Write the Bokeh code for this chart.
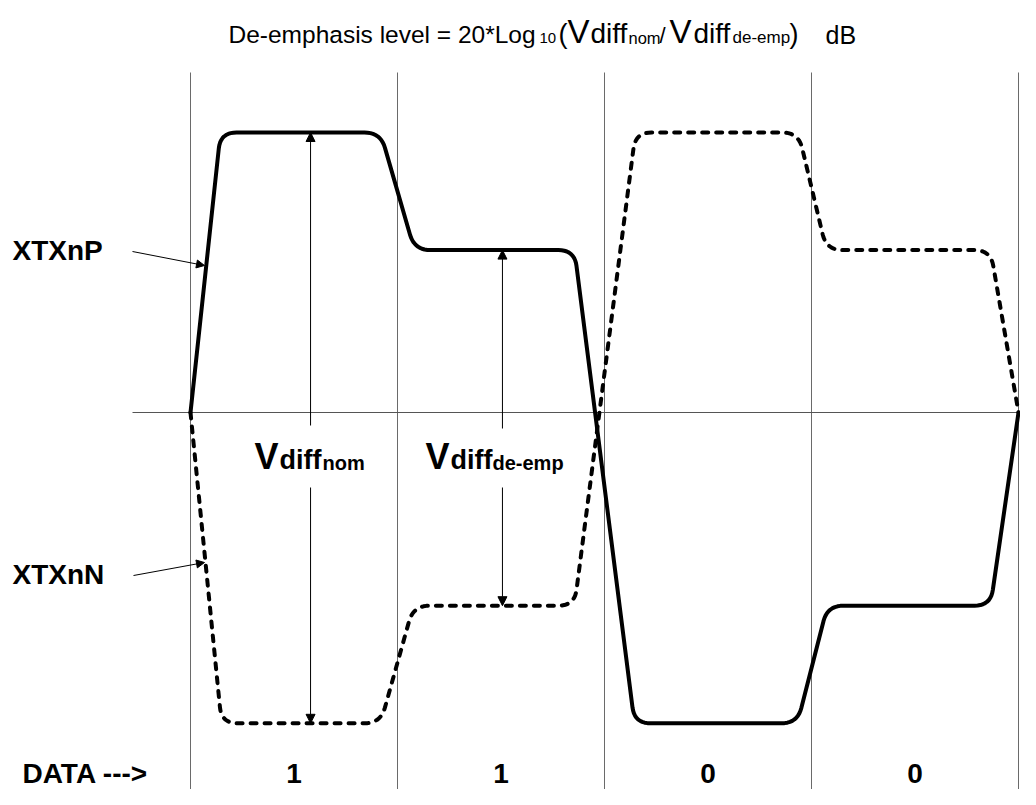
import numpy as np
from bokeh.plotting import figure
from bokeh.models import Range1d, Arrow, NormalHead
from bokeh.core.properties import value
from bokeh.embed import file_html
from bokeh.resources import INLINE

# ---------------- data (time in UI, voltage in normalised units) ----------------
DATA_BITS = ["1", "1", "0", "0"]
UI_EDGES = [0, 1, 2, 3, 4]

P_T = [0.0, 0.145, 0.918, 1.082, 1.855, 2.145, 2.932, 3.077, 3.865, 4.0]
P_V = [0.0, 1.0, 1.0, 0.58, 0.58, -1.11, -1.11, -0.69, -0.69, 0.0]

N_T = [0.0, 0.150, 0.918, 1.077, 1.855, 2.150, 2.937, 3.072, 3.865, 4.0]
N_V = [0.0, -1.11, -1.11, -0.69, -0.69, 1.0, 1.0, 0.58, 0.58, 0.0]

V_NOM_HIGH, V_NOM_LOW = 1.0, -1.11
V_DE_HIGH, V_DE_LOW = 0.58, -0.69
T_NOM_MARK = 0.58
T_DE_MARK = 1.507

# ---------------- layout ----------------
W, H = 1020, 789
PX_UI = 207.0      # pixels per UI
PX_V = 280.0       # pixels per voltage unit
OX, OY = 190.0, 412.0   # picture position of (t=0, v=0)

def X(px):
    return (px - OX) / PX_UI

def Y(py):
    return (OY - py) / PX_V

p = figure(width=W, height=H, output_backend="svg", toolbar_location=None,
           x_range=Range1d(X(0), X(W)),
           y_range=Range1d(Y(H), Y(0)),
           min_border=0)
p.xaxis.visible = False
p.yaxis.visible = False
p.grid.visible = False
p.outline_line_color = None
p.background_fill_color = "white"
p.border_fill_color = "white"

# bit boundary lines and zero line
p.segment(x0=UI_EDGES, x1=UI_EDGES, y0=[Y(72)] * len(UI_EDGES), y1=[Y(830)] * len(UI_EDGES),
          line_color="#6a6a6a", line_width=1)
p.segment(x0=[X(132)], x1=[X(1060)], y0=[0], y1=[0], line_color="#555555", line_width=1)

# rounded-corner rendering of the waveform vertices
def rounded(ts, vs, r=16.0, n=10):
    pts = np.column_stack([np.array(ts) * PX_UI, np.array(vs) * PX_V])
    out = [pts[0]]
    for i in range(1, len(pts) - 1):
        a, b, c = pts[i - 1], pts[i], pts[i + 1]
        d1 = a - b; l1 = np.hypot(*d1)
        d2 = c - b; l2 = np.hypot(*d2)
        rr = min(r, l1 / 2, l2 / 2)
        A = b + d1 / l1 * rr
        B = b + d2 / l2 * rr
        for k in range(n + 1):
            t = k / n
            out.append((1 - t) ** 2 * A + 2 * (1 - t) * t * b + t ** 2 * B)
    out.append(pts[-1])
    out = np.array(out)
    return out[:, 0] / PX_UI, out[:, 1] / PX_V

nx, ny = rounded(N_T, N_V)
p.line(nx, ny, line_color="black", line_width=4, line_dash="6 8",
       line_cap="round", line_join="round")
px_, py_ = rounded(P_T, P_V)
p.line(px_, py_, line_color="black", line_width=4, line_join="round", line_cap="round")

# measurement arrows
def arrow(x0, y0, x1, y1, size=9):
    p.add_layout(Arrow(end=NormalHead(size=size, fill_color="black", line_color="black", line_width=1),
                       x_start=x0, y_start=y0, x_end=x1, y_end=y1,
                       line_color="black", line_width=1))

arrow(T_NOM_MARK, Y(425), T_NOM_MARK, V_NOM_HIGH)
arrow(T_NOM_MARK, Y(487), T_NOM_MARK, V_NOM_LOW)
arrow(T_DE_MARK, Y(428), T_DE_MARK, V_DE_HIGH)
arrow(T_DE_MARK, Y(487), T_DE_MARK, V_DE_LOW)
arrow(X(132), Y(251), X(204), Y(265), size=8)
arrow(X(133), Y(575), X(204), Y(562), size=8)

FONT = value("Liberation Sans")

def txt(s, left, base, size, bold=False, align="left", xdata=None):
    # place by the middle of the em box so that the glyph baseline lands on `base`
    mid = base - 0.35 * size
    p.text(x=[X(left) if xdata is None else xdata], y=[Y(mid)], text=[s],
           text_font=FONT, text_font_size=f"{size}px",
           text_font_style="bold" if bold else "normal",
           text_baseline="middle", text_align=align, text_color="black")

# title (mixed sizes)
title_parts = [
    ("De-emphasis level = 20*Log", 228, 24.5),
    ("10", 539, 15),
    ("(", 558, 27),
    ("V", 567, 33),
    ("diff", 590, 28),
    ("nom", 628, 16.5),
    ("/", 659, 22),
    ("V", 669, 33),
    ("diff", 693, 28),
    ("de-emp", 732, 17),
    (")", 789, 27),
    ("dB", 825, 25),
]
for s, left, size in title_parts:
    txt(s, left, 43, size)

# bold labels
BOTTOM_BASE = 783
bold_parts = [
    ("XTXnP", 12, 260, 28),
    ("XTXnN", 12, 584, 28),
    ("DATA --->", 22, BOTTOM_BASE, 28),
    ("V", 254, 469, 36),
    ("diff", 279, 469, 27),
    ("nom", 322, 469, 20),
    ("V", 425, 469, 36),
    ("diff", 450, 469, 27),
    ("de-emp", 492, 469, 20),
]
for s, left, base, size in bold_parts:
    txt(s, left, base, size, bold=True)

# data bits centred in each UI
for i, b in enumerate(DATA_BITS):
    txt(b, 0, BOTTOM_BASE, 28, bold=True, align="center", xdata=i + 0.5)

open("out.html", "w").write(file_html(p, INLINE))
